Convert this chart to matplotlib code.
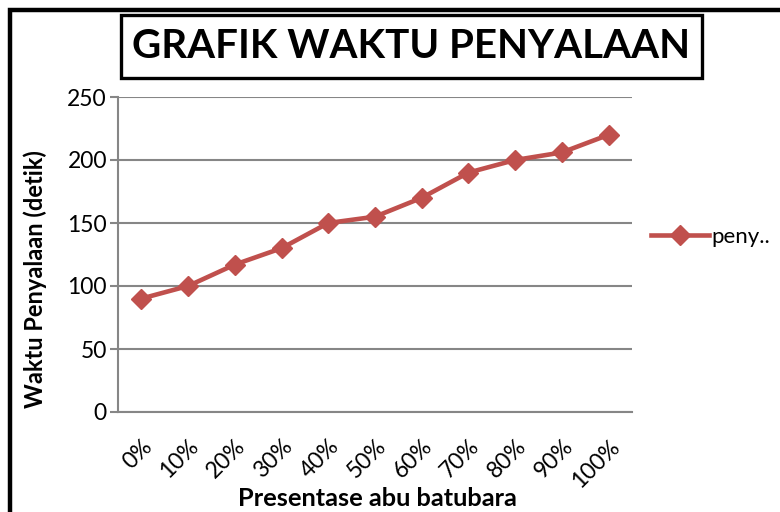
import matplotlib
matplotlib.use("Agg")
import matplotlib.pyplot as plt
from matplotlib.patches import Rectangle
from matplotlib.transforms import ScaledTranslation

categories = ["0%", "10%", "20%", "30%", "40%", "50%", "60%", "70%", "80%", "90%", "100%"]
values = [90, 100, 117, 130, 150, 155, 170, 190, 200, 206, 220]
series_name = "peny.."
yticks = [0, 50, 100, 150, 200, 250]

plt.rcParams['font.family'] = ['Lato', 'DejaVu Sans']

W, H = 780, 512
fig = plt.figure(figsize=(W / 100, H / 100), dpi=100)

def fx(px):
    return px / W

def fy(py):
    return 1 - py / H

# outer chart border (cropped at right/bottom)
fig.patches.append(Rectangle((fx(10), fy(600)), fx(900), fy(10) - fy(600),
                             transform=fig.transFigure, fill=False,
                             edgecolor='black', linewidth=3.2, zorder=0))

# title box
fig.patches.append(Rectangle((fx(121), fy(78)), fx(702) - fx(121), fy(15) - fy(78),
                             transform=fig.transFigure, fill=False,
                             edgecolor='black', linewidth=2.4, zorder=1))
fig.text(fx(411), fy(47), "GRAFIK WAKTU PENYALAAN", ha='center', va='center',
         fontsize=29, fontweight='bold', color='black')

ax = fig.add_axes([fx(118), fy(412), fx(632) - fx(118), fy(97) - fy(412)])

color = '#C0504D'
x = list(range(len(categories)))
line, = ax.plot(x, values, color=color, linewidth=3.3, marker='D', markersize=10.5,
                markeredgecolor=color, markerfacecolor=color, zorder=3)

ax.set_xlim(-0.5, len(categories) - 0.5)
ax.set_ylim(0, 250)
ax.set_yticks(yticks)
ax.set_xticks(x)
ax.set_xticklabels(categories, rotation=45, ha='right', rotation_mode='anchor', fontsize=16.5)
offset = ScaledTranslation(5 / 100, 0, fig.dpi_scale_trans)
for lbl in ax.get_xticklabels():
    lbl.set_transform(lbl.get_transform() + offset)
ax.tick_params(axis='y', labelsize=16.5, length=6, width=1.5, color='#868686', pad=2)
ax.tick_params(axis='x', length=0, pad=17)

ax.grid(axis='y', color='#868686', linewidth=1.5)
ax.set_axisbelow(True)
for s in ['top', 'right']:
    ax.spines[s].set_visible(False)
for s in ['left', 'bottom']:
    ax.spines[s].set_color('#868686')
    ax.spines[s].set_linewidth(1.5)

ax.set_xlabel("Presentase abu batubara", fontsize=18.3, fontweight='bold')
ax.xaxis.set_label_coords((377 - 118) / 514, (412 - 487) / 315)
ax.xaxis.label.set_va('top')
ax.set_ylabel("Waktu Penyalaan (detik)", fontsize=17, fontweight='bold')
ax.yaxis.set_label_coords((47 - 118) / 514, (412 - 279) / 315)
ax.yaxis.label.set_va('bottom')

leg = ax.legend([line], [series_name], loc='center left', bbox_to_anchor=(1.02, 0.555),
                frameon=False, fontsize=16, handlelength=2.6, handletextpad=0.1,
                borderaxespad=0)

fig.savefig("out.png", dpi=100)
